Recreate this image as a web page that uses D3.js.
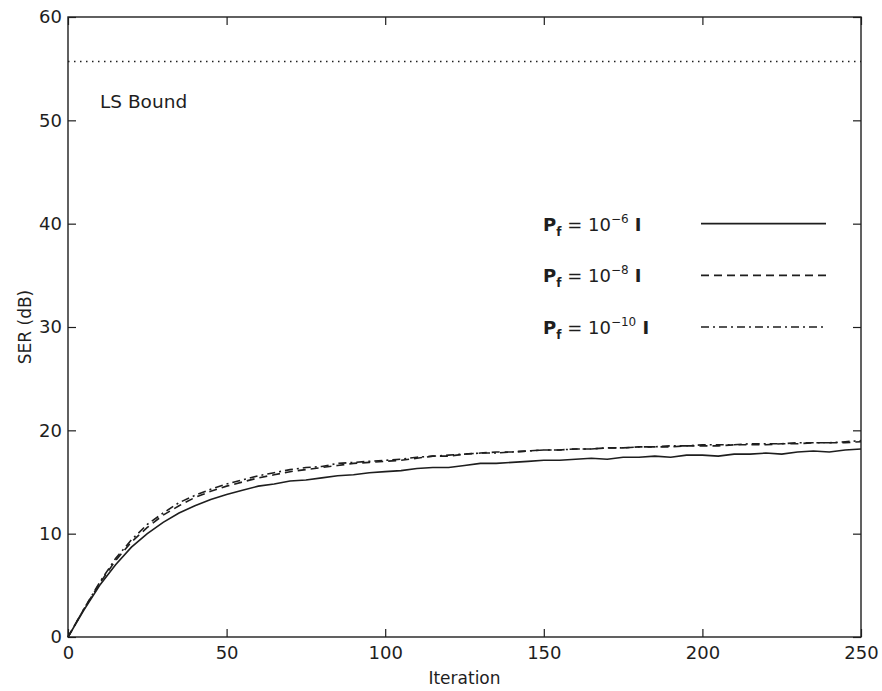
<!DOCTYPE html>
<html>
<head>
<meta charset="utf-8">
<script src="https://cdn.jsdelivr.net/npm/d3@7"></script>
<style>
  html, body { margin: 0; padding: 0; background: #fff; }
  svg { display: block; font-family: "DejaVu Sans", "Liberation Sans", Arial, sans-serif; }
</style>
</head>
<body>
<svg id="chart" width="882" height="691"></svg>
<script>
// ---------- data ----------
const iterations = d3.range(0, 251, 5);
const serPf6  = [0,2.6,5.0,7.0,8.7,10.0,11.1,12.0,12.7,13.3,13.8,14.2,14.6,14.8,15.1,15.2,15.4,15.6,15.7,15.9,16.0,16.1,16.3,16.4,16.4,16.6,16.8,16.8,16.9,17.0,17.1,17.1,17.2,17.3,17.2,17.4,17.4,17.5,17.4,17.6,17.6,17.5,17.7,17.7,17.8,17.7,17.9,18.0,17.9,18.1,18.2];
const serPf8  = [0,2.7,5.2,7.4,9.2,10.6,11.8,12.7,13.5,14.1,14.6,15.0,15.4,15.7,16.0,16.2,16.4,16.6,16.8,16.9,17.0,17.1,17.3,17.5,17.5,17.7,17.8,17.9,17.9,18.0,18.1,18.1,18.2,18.2,18.3,18.3,18.4,18.4,18.4,18.5,18.5,18.5,18.6,18.6,18.6,18.7,18.7,18.8,18.8,18.8,18.9];
const serPf10 = [0,2.7,5.3,7.6,9.4,10.9,12.0,13.0,13.7,14.3,14.8,15.2,15.6,15.9,16.2,16.4,16.5,16.8,16.9,17.0,17.1,17.2,17.4,17.5,17.6,17.7,17.8,17.8,17.9,18.0,18.1,18.1,18.2,18.2,18.3,18.3,18.4,18.4,18.5,18.5,18.6,18.6,18.6,18.7,18.7,18.7,18.8,18.8,18.8,18.9,19.0];
const lsBound = 55.7;
const seriesExponents = ["−6", "−8", "−10"];
const legendLevels = [40, 35, 30];
const xTicks = [0, 50, 100, 150, 200, 250];
const yTicks = [0, 10, 20, 30, 40, 50, 60];

// ---------- layout ----------
const svg = d3.select("#chart");
const L = 68, R = 861, T = 17, B = 637;
const x = d3.scaleLinear().domain([0, 250]).range([L, R]);
const y = d3.scaleLinear().domain([0, 60]).range([B, T]);
const ink = "#1e1e1e";
const tickLen = 8;
const fontFam = "'DejaVu Sans', 'Liberation Sans', Arial, sans-serif";

const series = [
  { vals: serPf6,  dash: null },
  { vals: serPf8,  dash: "8,5" },
  { vals: serPf10, dash: "8,4,2,4" }
];

// axes box
svg.append("rect").attr("x", L).attr("y", T).attr("width", R - L).attr("height", B - T)
  .attr("fill", "none").attr("stroke", ink).attr("stroke-width", 1.4);

// axes with inward ticks
const axB = svg.append("g").attr("transform", `translate(0,${B})`)
  .call(d3.axisBottom(x).tickValues(xTicks).tickSize(-tickLen).tickPadding(9));
const axT = svg.append("g").attr("transform", `translate(0,${T})`)
  .call(d3.axisTop(x).tickValues(xTicks).tickSize(-tickLen).tickFormat(""));
const axLft = svg.append("g").attr("transform", `translate(${L},0)`)
  .call(d3.axisLeft(y).tickValues(yTicks).tickSize(-tickLen).tickPadding(6));
const axRgt = svg.append("g").attr("transform", `translate(${R},0)`)
  .call(d3.axisRight(y).tickValues(yTicks).tickSize(-tickLen).tickFormat(""));
[axB, axT, axLft, axRgt].forEach(g => {
  g.select(".domain").remove();
  g.selectAll(".tick line").attr("stroke", ink).attr("stroke-width", 1.2);
  g.selectAll(".tick text").attr("fill", ink).style("font-size", "18px")
    .style("font-family", fontFam);
});
axB.selectAll(".tick text").attr("dy", "0.71em");

// axis titles
svg.append("text").attr("x", (L + R) / 2).attr("y", 684).attr("text-anchor", "middle")
  .attr("fill", ink).style("font-size", "17px").text("Iteration");
svg.append("text").attr("transform", `translate(31,${(T + B) / 2}) rotate(-90)`)
  .attr("text-anchor", "middle").attr("fill", ink).style("font-size", "17px").text("SER (dB)");

// LS bound
svg.append("line").attr("x1", x(0)).attr("x2", x(250)).attr("y1", y(lsBound)).attr("y2", y(lsBound))
  .attr("stroke", ink).attr("stroke-width", 1.4).attr("stroke-dasharray", "1.5,4.5");
svg.append("text").attr("x", 100).attr("y", 108).attr("fill", ink)
  .style("font-size", "18.5px").text("LS Bound");

// curves
const line = d3.line().x((d, i) => x(iterations[i])).y(d => y(d));
series.forEach(s => {
  svg.append("path").datum(s.vals).attr("d", line)
    .attr("fill", "none").attr("stroke", ink).attr("stroke-width", 1.6)
    .attr("stroke-dasharray", s.dash);
});

// legend
series.forEach((s, i) => {
  const ly = y(legendLevels[i]);
  svg.append("line").attr("x1", 701).attr("x2", 826).attr("y1", ly).attr("y2", ly)
    .attr("stroke", ink).attr("stroke-width", 1.6).attr("stroke-dasharray", s.dash);
  const t = svg.append("text").attr("x", 543).attr("y", ly + 7).attr("fill", ink)
    .style("font-size", "18px");
  t.append("tspan").style("font-weight", "bold").text("P");
  t.append("tspan").attr("dy", 5).style("font-weight", "bold").style("font-size", "12px").text("f");
  t.append("tspan").attr("dy", -5).text(" = 10");
  t.append("tspan").attr("dy", -8).style("font-size", "12px").text(seriesExponents[i]);
  t.append("tspan").attr("dy", 8).style("font-weight", "bold").text(" I");
});
</script>
</body>
</html>
